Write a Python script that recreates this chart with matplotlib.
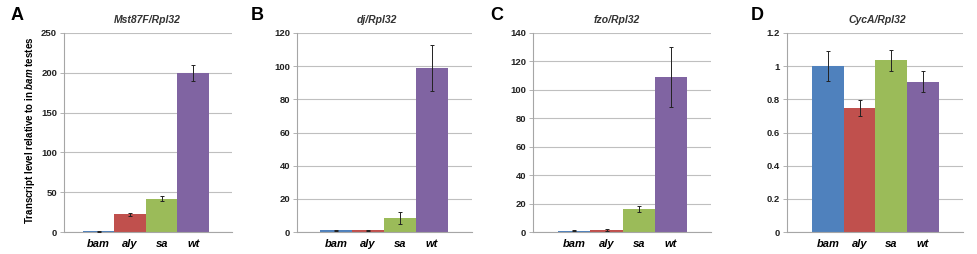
import matplotlib.pyplot as plt

plt.rcParams['font.family'] = ['Liberation Sans', 'DejaVu Sans']
plt.rcParams['mathtext.fontset'] = 'custom'
plt.rcParams['mathtext.bfit'] = 'Liberation Sans:bold:italic'

# data
genotypes = ['bam', 'aly', 'sa', 'wt']
colors = ['#4F81BD', '#C0504D', '#9BBB59', '#8064A2']

titles = ['Mst87F/Rpl32', 'dj/Rpl32', 'fzo/Rpl32', 'CycA/Rpl32']
letters = ['A', 'B', 'C', 'D']

mst87f = [1.0, 22.0, 42.0, 200.0]
mst87f_err = [0.5, 2.0, 3.5, 10.0]
dj = [1.0, 1.2, 8.5, 99.0]
dj_err = [0.2, 0.3, 3.5, 14.0]
fzo = [1.0, 1.5, 16.0, 109.0]
fzo_err = [0.3, 0.5, 2.0, 21.0]
cyca = [1.0, 0.745, 1.035, 0.905]
cyca_err = [0.09, 0.048, 0.063, 0.063]

yticks = [
    [0, 50, 100, 150, 200, 250],
    [0, 20, 40, 60, 80, 100, 120],
    [0, 20, 40, 60, 80, 100, 120, 140],
    [0, 0.2, 0.4, 0.6, 0.8, 1, 1.2],
]
ytick_labels = [
    ['0', '50', '100', '150', '200', '250'],
    ['0', '20', '40', '60', '80', '100', '120'],
    ['0', '20', '40', '60', '80', '100', '120', '140'],
    ['0', '0.2', '0.4', '0.6', '0.8', '1', '1.2'],
]
values = [mst87f, dj, fzo, cyca]
errors = [mst87f_err, dj_err, fzo_err, cyca_err]

W, H = 978, 254
fig = plt.figure(figsize=(W / 100, H / 100), dpi=100)

# axes boxes in pixels: left, right, xlim
boxes = [(64, 232, -1.10, 4.23), (297, 472, -1.22, 4.25),
         (533, 711, -1.28, 4.24), (787, 963, -1.29, 4.26)]
top_px, bot_px = 33, 232
letter_x = [17, 257, 497, 757]
title_x = [147, 377, 617, 877]

grey = '#A6A6A6'
for i in range(4):
    l, r, x0, x1 = boxes[i]
    ax = fig.add_axes([l / W, 1 - bot_px / H, (r - l) / W, (bot_px - top_px) / H])
    ax.bar(range(4), values[i], width=1.0, color=colors, zorder=2)
    ax.errorbar(range(4), values[i], yerr=errors[i], fmt='none', ecolor='#222222',
                elinewidth=0.7, capsize=1.5, capthick=0.7, zorder=3)
    ax.set_xlim(x0, x1)
    ax.set_ylim(yticks[i][0], yticks[i][-1])
    ax.set_yticks(yticks[i])
    ax.set_yticklabels(ytick_labels[i], fontsize=6.8, fontweight='bold', color='#222222')
    ax.set_xticks(range(4))
    ax.set_xticklabels(genotypes, fontsize=8, fontweight='bold', style='italic')
    ax.tick_params(axis='x', length=0, pad=5)
    ax.tick_params(axis='y', length=3, width=0.6, color=grey, pad=2)
    ax.yaxis.grid(True, color='#BFBFBF', linewidth=0.8, zorder=0)
    ax.set_axisbelow(True)
    for s in ['top', 'right']:
        ax.spines[s].set_visible(False)
    for s in ['left', 'bottom']:
        ax.spines[s].set_color(grey)
        ax.spines[s].set_linewidth(0.8)
    fig.text(title_x[i] / W, 1 - 20 / H, titles[i], ha='center', va='center',
             fontsize=7.5, style='italic', fontweight='bold', color='#333333')
    fig.text(letter_x[i] / W, 1 - 15 / H, letters[i], ha='center', va='center',
             fontsize=13, fontweight='bold')

fig.text(30 / W, 1 - 130 / H, r'Transcript level relative to in $\mathbfit{bam}$ testes',
         rotation=90, ha='center', va='center', fontsize=7, fontweight='bold')

fig.savefig('out.png', dpi=100)
